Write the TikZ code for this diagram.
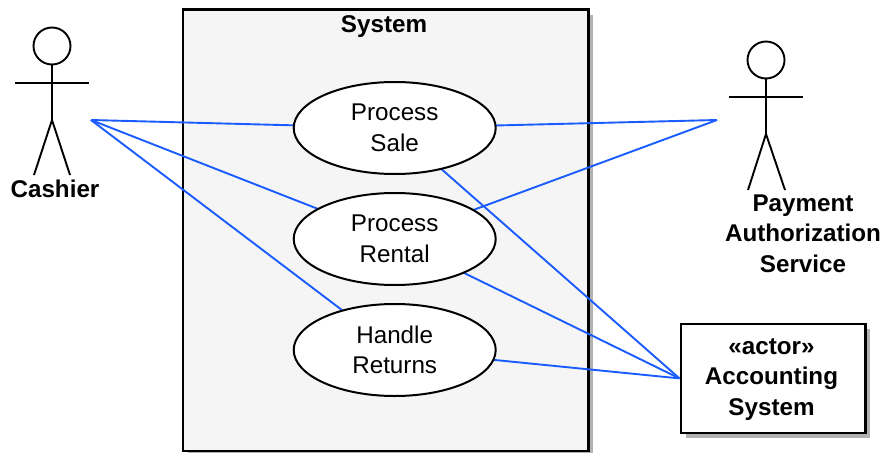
\documentclass[tikz,border=0pt]{standalone}
\usepackage{fontspec}
\setmainfont{Liberation Sans}
\usetikzlibrary{shapes.geometric,shadows}
\definecolor{conn}{HTML}{1A5CFF}
\tikzset{
 usecase/.style={draw=black,line width=2pt,fill=white,ellipse,minimum width=202pt,minimum height=92pt,inner sep=0pt,align=center,font=\fontsize{24.2}{30.5}\selectfont},
 bigtext/.style={font=\bfseries\fontsize{24.2}{30.5}\selectfont,align=center,inner sep=0pt},
 link/.style={draw=conn,line width=1.9pt},
 stick/.style={draw=black,line width=1.9pt},
 softshadow/.style={general shadow={shadow xshift=5pt,shadow yshift=-5pt,fill=black!30,draw=none}},
 actorbox/.style={draw=black,line width=2.8pt,fill=white,inner sep=0pt,anchor=north west}
}
\begin{document}
\begin{tikzpicture}[x=1pt,y=-1pt]
\useasboundingbox (0,0) rectangle (885,452);
\fill[white] (0,0) rectangle (885,452);
% system boundary
\node[actorbox,softshadow,fill=black!4,minimum width=405.5pt,minimum height=441pt] (sys) at (181.5,8.5) {};
\node[bigtext] (syst) at (384,27) {System};
% end points
\coordinate (ca) at (91,120);
\coordinate (pa) at (717,120);
\coordinate (sc) at (394.7,128);
\coordinate (rc) at (394.7,239);
\coordinate (hc) at (394.7,350);
\node[actorbox,softshadow,minimum width=184.5pt,minimum height=109pt] (acc) at (679.5,322.5) {};
\node[bigtext] (acctext) at (771.5,379.5) {«actor»\\Accounting\\System};
% connectors under the use cases
\draw[link] (ca) -- (sc);
\draw[link] (ca) -- (rc);
\draw[link] (ca) -- (hc);
\draw[link] (pa) -- (sc);
\draw[link] (pa) -- (rc);
\draw[link] (acc.west) -- (sc);
\draw[link] (acc.west) -- (rc);
\draw[link] (acc.west) -- (hc);
% use cases
\node[usecase] (sale) at (sc) {Process\\Sale};
\node[usecase] (rental) at (rc) {Process\\Rental};
\node[usecase] (returns) at (hc) {Handle\\Returns};
% cashier
\draw[stick] (52,46) circle (18.5);
\draw[stick] (52,64.5) -- (52,120) -- (34,175);
\draw[stick] (52,120) -- (70,175);
\draw[stick] (15,83) -- (89,83);
\node[bigtext] (cashier) at (55,188.5) {Cashier};
% payment service
\draw[stick] (766,60) circle (18.5);
\draw[stick] (766,78.5) -- (766,134) -- (748,190);
\draw[stick] (766,134) -- (785,190);
\draw[stick] (729,97) -- (803,97);
\node[bigtext] (pay) at (803,233.5) {Payment\\Authorization\\Service};
\end{tikzpicture}
\end{document}
